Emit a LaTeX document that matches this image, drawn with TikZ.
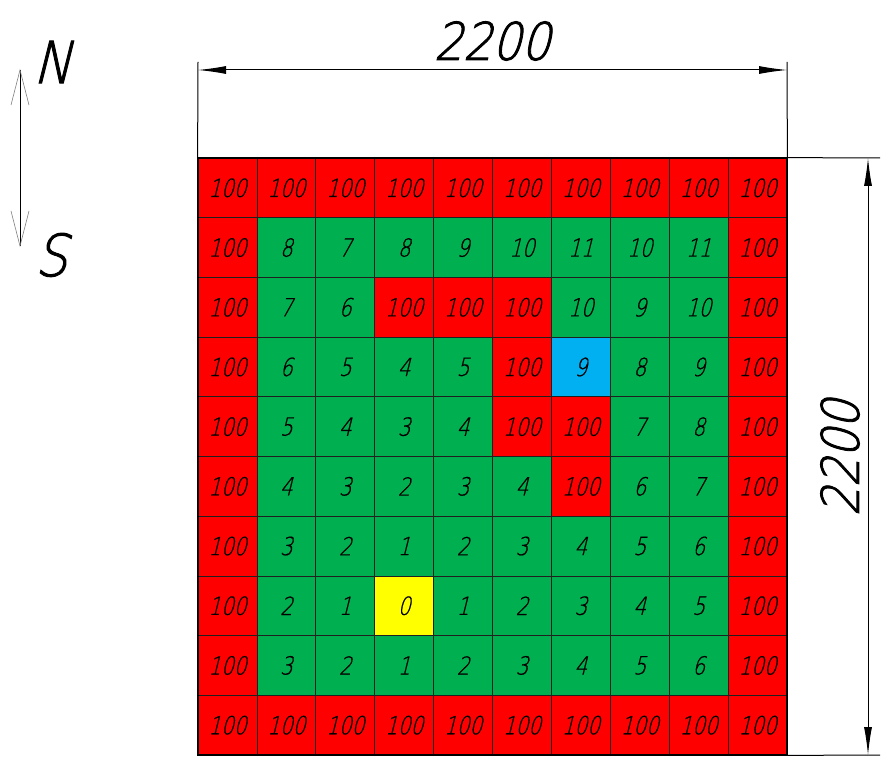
\documentclass[tikz,border=0pt]{standalone}
\usepackage{fontspec}
\usetikzlibrary{arrows.meta}
\newfontfamily\cadsmall{DejaVuSans-ExtraLight.ttf}[FakeSlant=0.25,FakeStretch=0.8,FakeBold=0.6]
\newfontfamily\cadbig{DejaVuSans-ExtraLight.ttf}[FakeSlant=0.25,FakeStretch=0.88,FakeBold=1.6]
\definecolor{cellred}{HTML}{FF0000}
\definecolor{cellgreen}{HTML}{00B050}
\definecolor{cellblue}{HTML}{00B0F0}
\definecolor{cellyellow}{HTML}{FFFF00}
\definecolor{gridline}{HTML}{202020}
\tikzset{
  cell/.style={draw=gridline, line width=0.8pt, minimum width=58.9pt, minimum height=59.7pt,
    inner sep=0pt, font=\cadsmall\fontsize{25}{25}\selectfont},
  dimline/.style={line width=1pt, {Latex[length=28pt,width=8pt]}-{Latex[length=28pt,width=8pt]}},
  extline/.style={line width=1pt},
  bigtext/.style={font=\cadbig\fontsize{52}{52}\selectfont, inner sep=0pt},
  compass/.style={font=\cadbig\fontsize{58}{58}\selectfont, inner sep=0pt},
  opentip/.style={gray, line width=0.6pt}
}
\begin{document}
\begin{tikzpicture}[x=1pt,y=-1pt]
\useasboundingbox (0,0) rectangle (888,775);
\fill[white] (0,0) rectangle (888,775);
\foreach \row [count=\r from 0] in {
 {100,100,100,100,100,100,100,100,100,100},
 {100,8,7,8,9,10,11,10,11,100},
 {100,7,6,100,100,100,10,9,10,100},
 {100,6,5,4,5,100,9,8,9,100},
 {100,5,4,3,4,100,100,7,8,100},
 {100,4,3,2,3,4,100,6,7,100},
 {100,3,2,1,2,3,4,5,6,100},
 {100,2,1,0,1,2,3,4,5,100},
 {100,3,2,1,2,3,4,5,6,100},
 {100,100,100,100,100,100,100,100,100,100}} {
  \foreach \v [count=\c from 0] in \row {
    \ifnum\v=100 \def\cc{cellred}\else\def\cc{cellgreen}\fi
    \ifnum\r=3 \ifnum\c=6 \def\cc{cellblue}\fi\fi
    \ifnum\r=7 \ifnum\c=3 \def\cc{cellyellow}\fi\fi
    \node[cell, fill=\cc] (n-\r-\c) at ({198+(\c+0.5)*58.9},{158+(\r+0.5)*59.7}) {\v};
  }
}
\draw[line width=2pt] (n-0-0.north west) rectangle (n-9-9.south east);
% top dimension
\coordinate (tl) at (198,62);
\coordinate (tr) at (787,62);
\draw[extline] (tl) -- (n-0-0.north west);
\draw[extline] (tr) -- (n-0-9.north east);
\coordinate (da) at (198,70);
\coordinate (db) at (787,70);
\draw[dimline] (da) -- (db);
\node[bigtext] (topdim) at (492,41) {2200};
% right dimension
\coordinate (ra) at (880,158);
\coordinate (rb) at (880,755);
\draw[extline] (n-0-9.north east) -- (ra);
\draw[extline] (n-9-9.south east) -- (rb);
\coordinate (va) at (868,158);
\coordinate (vb) at (868,755);
\draw[dimline] (va) -- (vb);
\node[bigtext, rotate=90] (rightdim) at (840,458) {2200};
% compass
\coordinate (cn) at (20,70);
\coordinate (cs) at (20,246);
\draw[line width=0.8pt] (cn) -- (cs);
\draw[opentip] (11,105) -- (cn) -- (29,105);
\draw[opentip] (11,211) -- (cs) -- (29,211);
\node[compass] (north) at (52,62) {N};
\node[compass] (south) at (51,255) {S};
\end{tikzpicture}
\end{document}
